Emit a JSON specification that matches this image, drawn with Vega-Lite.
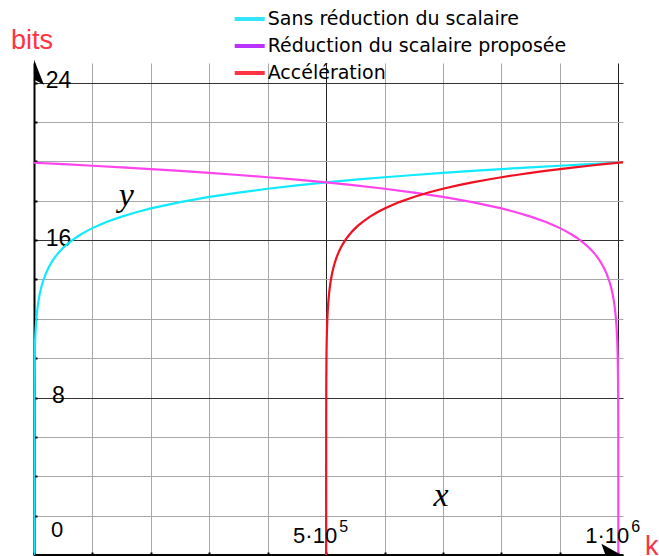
{
  "$schema": "https://vega.github.io/schema/vega-lite/v6.json",
  "width": 589,
  "height": 492,
  "autosize": "none",
  "padding": {"left": 34, "top": 63, "right": 36, "bottom": 1},
  "background": "white",
  "config": {"view": {"stroke": null}},
  "datasets": {
    "curves": [
      {"serie": "Sans réduction du scalaire", "k": 1, "b": 0},
      {"serie": "Sans réduction du scalaire", "k": 10, "b": 3.3219},
      {"serie": "Sans réduction du scalaire", "k": 100, "b": 6.6439},
      {"serie": "Sans réduction du scalaire", "k": 300, "b": 8.2288},
      {"serie": "Sans réduction du scalaire", "k": 500, "b": 8.9658},
      {"serie": "Sans réduction du scalaire", "k": 1000, "b": 9.9658},
      {"serie": "Sans réduction du scalaire", "k": 1500, "b": 10.5508},
      {"serie": "Sans réduction du scalaire", "k": 2000, "b": 10.9658},
      {"serie": "Sans réduction du scalaire", "k": 2500, "b": 11.2877},
      {"serie": "Sans réduction du scalaire", "k": 3000, "b": 11.5507},
      {"serie": "Sans réduction du scalaire", "k": 4000, "b": 11.9658},
      {"serie": "Sans réduction du scalaire", "k": 5000, "b": 12.2877},
      {"serie": "Sans réduction du scalaire", "k": 6000, "b": 12.5508},
      {"serie": "Sans réduction du scalaire", "k": 7000, "b": 12.7731},
      {"serie": "Sans réduction du scalaire", "k": 8000, "b": 12.9658},
      {"serie": "Sans réduction du scalaire", "k": 10000, "b": 13.2877},
      {"serie": "Sans réduction du scalaire", "k": 12000, "b": 13.5508},
      {"serie": "Sans réduction du scalaire", "k": 15000, "b": 13.8727},
      {"serie": "Sans réduction du scalaire", "k": 20000, "b": 14.2877},
      {"serie": "Sans réduction du scalaire", "k": 25000, "b": 14.6097},
      {"serie": "Sans réduction du scalaire", "k": 30000, "b": 14.8727},
      {"serie": "Sans réduction du scalaire", "k": 35000, "b": 15.0951},
      {"serie": "Sans réduction du scalaire", "k": 40000, "b": 15.2877},
      {"serie": "Sans réduction du scalaire", "k": 45000, "b": 15.4577},
      {"serie": "Sans réduction du scalaire", "k": 50000, "b": 15.6096},
      {"serie": "Sans réduction du scalaire", "k": 57000, "b": 15.7987},
      {"serie": "Sans réduction du scalaire", "k": 65000, "b": 15.9881},
      {"serie": "Sans réduction du scalaire", "k": 72000, "b": 16.1357},
      {"serie": "Sans réduction du scalaire", "k": 80000, "b": 16.2877},
      {"serie": "Sans réduction du scalaire", "k": 90000, "b": 16.4577},
      {"serie": "Sans réduction du scalaire", "k": 100000, "b": 16.6096},
      {"serie": "Sans réduction du scalaire", "k": 110000, "b": 16.7472},
      {"serie": "Sans réduction du scalaire", "k": 125000, "b": 16.9316},
      {"serie": "Sans réduction du scalaire", "k": 150000, "b": 17.1946},
      {"serie": "Sans réduction du scalaire", "k": 175000, "b": 17.417},
      {"serie": "Sans réduction du scalaire", "k": 200000, "b": 17.6096},
      {"serie": "Sans réduction du scalaire", "k": 250000, "b": 17.9316},
      {"serie": "Sans réduction du scalaire", "k": 300000, "b": 18.1946},
      {"serie": "Sans réduction du scalaire", "k": 350000, "b": 18.417},
      {"serie": "Sans réduction du scalaire", "k": 400000, "b": 18.6096},
      {"serie": "Sans réduction du scalaire", "k": 450000, "b": 18.7796},
      {"serie": "Sans réduction du scalaire", "k": 500000, "b": 18.9316},
      {"serie": "Sans réduction du scalaire", "k": 550000, "b": 19.0691},
      {"serie": "Sans réduction du scalaire", "k": 600000, "b": 19.1946},
      {"serie": "Sans réduction du scalaire", "k": 650000, "b": 19.3101},
      {"serie": "Sans réduction du scalaire", "k": 700000, "b": 19.417},
      {"serie": "Sans réduction du scalaire", "k": 750000, "b": 19.5165},
      {"serie": "Sans réduction du scalaire", "k": 800000, "b": 19.6096},
      {"serie": "Sans réduction du scalaire", "k": 850000, "b": 19.6971},
      {"serie": "Sans réduction du scalaire", "k": 900000, "b": 19.7795},
      {"serie": "Sans réduction du scalaire", "k": 950000, "b": 19.8576},
      {"serie": "Sans réduction du scalaire", "k": 1000000, "b": 19.9316},
      {"serie": "Réduction du scalaire proposée", "k": 0, "b": 19.9316},
      {"serie": "Réduction du scalaire proposée", "k": 50000, "b": 19.8576},
      {"serie": "Réduction du scalaire proposée", "k": 100000, "b": 19.7795},
      {"serie": "Réduction du scalaire proposée", "k": 150000, "b": 19.6971},
      {"serie": "Réduction du scalaire proposée", "k": 200000, "b": 19.6096},
      {"serie": "Réduction du scalaire proposée", "k": 250000, "b": 19.5165},
      {"serie": "Réduction du scalaire proposée", "k": 300000, "b": 19.417},
      {"serie": "Réduction du scalaire proposée", "k": 350000, "b": 19.3101},
      {"serie": "Réduction du scalaire proposée", "k": 400000, "b": 19.1946},
      {"serie": "Réduction du scalaire proposée", "k": 450000, "b": 19.0691},
      {"serie": "Réduction du scalaire proposée", "k": 500000, "b": 18.9316},
      {"serie": "Réduction du scalaire proposée", "k": 550000, "b": 18.7796},
      {"serie": "Réduction du scalaire proposée", "k": 600000, "b": 18.6096},
      {"serie": "Réduction du scalaire proposée", "k": 650000, "b": 18.417},
      {"serie": "Réduction du scalaire proposée", "k": 700000, "b": 18.1946},
      {"serie": "Réduction du scalaire proposée", "k": 750000, "b": 17.9316},
      {"serie": "Réduction du scalaire proposée", "k": 800000, "b": 17.6096},
      {"serie": "Réduction du scalaire proposée", "k": 825000, "b": 17.417},
      {"serie": "Réduction du scalaire proposée", "k": 850000, "b": 17.1946},
      {"serie": "Réduction du scalaire proposée", "k": 875000, "b": 16.9316},
      {"serie": "Réduction du scalaire proposée", "k": 890000, "b": 16.7472},
      {"serie": "Réduction du scalaire proposée", "k": 900000, "b": 16.6096},
      {"serie": "Réduction du scalaire proposée", "k": 910000, "b": 16.4577},
      {"serie": "Réduction du scalaire proposée", "k": 920000, "b": 16.2877},
      {"serie": "Réduction du scalaire proposée", "k": 928000, "b": 16.1357},
      {"serie": "Réduction du scalaire proposée", "k": 935000, "b": 15.9881},
      {"serie": "Réduction du scalaire proposée", "k": 943000, "b": 15.7987},
      {"serie": "Réduction du scalaire proposée", "k": 950000, "b": 15.6096},
      {"serie": "Réduction du scalaire proposée", "k": 955000, "b": 15.4577},
      {"serie": "Réduction du scalaire proposée", "k": 960000, "b": 15.2877},
      {"serie": "Réduction du scalaire proposée", "k": 965000, "b": 15.0951},
      {"serie": "Réduction du scalaire proposée", "k": 970000, "b": 14.8727},
      {"serie": "Réduction du scalaire proposée", "k": 975000, "b": 14.6097},
      {"serie": "Réduction du scalaire proposée", "k": 980000, "b": 14.2877},
      {"serie": "Réduction du scalaire proposée", "k": 985000, "b": 13.8727},
      {"serie": "Réduction du scalaire proposée", "k": 988000, "b": 13.5508},
      {"serie": "Réduction du scalaire proposée", "k": 990000, "b": 13.2877},
      {"serie": "Réduction du scalaire proposée", "k": 992000, "b": 12.9658},
      {"serie": "Réduction du scalaire proposée", "k": 993000, "b": 12.7731},
      {"serie": "Réduction du scalaire proposée", "k": 994000, "b": 12.5508},
      {"serie": "Réduction du scalaire proposée", "k": 995000, "b": 12.2877},
      {"serie": "Réduction du scalaire proposée", "k": 996000, "b": 11.9658},
      {"serie": "Réduction du scalaire proposée", "k": 997000, "b": 11.5507},
      {"serie": "Réduction du scalaire proposée", "k": 997500, "b": 11.2877},
      {"serie": "Réduction du scalaire proposée", "k": 998000, "b": 10.9658},
      {"serie": "Réduction du scalaire proposée", "k": 998500, "b": 10.5508},
      {"serie": "Réduction du scalaire proposée", "k": 999000, "b": 9.9658},
      {"serie": "Réduction du scalaire proposée", "k": 999500, "b": 8.9658},
      {"serie": "Réduction du scalaire proposée", "k": 999700, "b": 8.2288},
      {"serie": "Réduction du scalaire proposée", "k": 999900, "b": 6.6439},
      {"serie": "Réduction du scalaire proposée", "k": 999990, "b": 3.3219},
      {"serie": "Réduction du scalaire proposée", "k": 999999, "b": 0},
      {"serie": "Accélération", "k": 500000.5, "b": 0},
      {"serie": "Accélération", "k": 500005, "b": 3.3219},
      {"serie": "Accélération", "k": 500050, "b": 6.6439},
      {"serie": "Accélération", "k": 500150, "b": 8.2288},
      {"serie": "Accélération", "k": 500250, "b": 8.9658},
      {"serie": "Accélération", "k": 500500, "b": 9.9658},
      {"serie": "Accélération", "k": 500750, "b": 10.5508},
      {"serie": "Accélération", "k": 501000, "b": 10.9658},
      {"serie": "Accélération", "k": 501250, "b": 11.2877},
      {"serie": "Accélération", "k": 501500, "b": 11.5507},
      {"serie": "Accélération", "k": 502000, "b": 11.9658},
      {"serie": "Accélération", "k": 502500, "b": 12.2877},
      {"serie": "Accélération", "k": 503000, "b": 12.5508},
      {"serie": "Accélération", "k": 503500, "b": 12.7731},
      {"serie": "Accélération", "k": 504000, "b": 12.9658},
      {"serie": "Accélération", "k": 505000, "b": 13.2877},
      {"serie": "Accélération", "k": 506000, "b": 13.5508},
      {"serie": "Accélération", "k": 507500, "b": 13.8727},
      {"serie": "Accélération", "k": 510000, "b": 14.2877},
      {"serie": "Accélération", "k": 512500, "b": 14.6097},
      {"serie": "Accélération", "k": 515000, "b": 14.8727},
      {"serie": "Accélération", "k": 517500, "b": 15.0951},
      {"serie": "Accélération", "k": 520000, "b": 15.2877},
      {"serie": "Accélération", "k": 522500, "b": 15.4577},
      {"serie": "Accélération", "k": 525000, "b": 15.6096},
      {"serie": "Accélération", "k": 528500, "b": 15.7987},
      {"serie": "Accélération", "k": 532500, "b": 15.9881},
      {"serie": "Accélération", "k": 536000, "b": 16.1357},
      {"serie": "Accélération", "k": 540000, "b": 16.2877},
      {"serie": "Accélération", "k": 545000, "b": 16.4577},
      {"serie": "Accélération", "k": 550000, "b": 16.6096},
      {"serie": "Accélération", "k": 555000, "b": 16.7472},
      {"serie": "Accélération", "k": 562500, "b": 16.9316},
      {"serie": "Accélération", "k": 575000, "b": 17.1946},
      {"serie": "Accélération", "k": 587500, "b": 17.417},
      {"serie": "Accélération", "k": 600000, "b": 17.6096},
      {"serie": "Accélération", "k": 625000, "b": 17.9316},
      {"serie": "Accélération", "k": 650000, "b": 18.1946},
      {"serie": "Accélération", "k": 675000, "b": 18.417},
      {"serie": "Accélération", "k": 700000, "b": 18.6096},
      {"serie": "Accélération", "k": 725000, "b": 18.7796},
      {"serie": "Accélération", "k": 750000, "b": 18.9316},
      {"serie": "Accélération", "k": 775000, "b": 19.0691},
      {"serie": "Accélération", "k": 800000, "b": 19.1946},
      {"serie": "Accélération", "k": 825000, "b": 19.3101},
      {"serie": "Accélération", "k": 850000, "b": 19.417},
      {"serie": "Accélération", "k": 875000, "b": 19.5165},
      {"serie": "Accélération", "k": 900000, "b": 19.6096},
      {"serie": "Accélération", "k": 925000, "b": 19.6971},
      {"serie": "Accélération", "k": 950000, "b": 19.7795},
      {"serie": "Accélération", "k": 975000, "b": 19.8576},
      {"serie": "Accélération", "k": 1000000, "b": 19.9316},
      {"serie": "Accélération", "k": 1008000, "b": 19.9544}
    ]
  },
  "layer": [
    {
      "data": {"name": "curves"},
      "mark": {"type": "line", "strokeWidth": 2.2, "clip": true, "interpolate": "linear"},
      "encoding": {
        "x": {
          "field": "k", "type": "quantitative",
          "scale": {"domain": [0, 1008000], "nice": false, "zero": false},
          "axis": {
            "values": [0, 100000, 200000, 300000, 400000, 500000, 600000, 700000, 800000, 900000, 1000000],
            "title": null, "labels": false,
            "grid": true,
            "gridColor": {"condition": {"test": "datum.value % 500000 === 0", "value": "#222222"}, "value": "#a8a8a8"},
            "gridWidth": 1,
            "domainColor": "black", "domainWidth": 3,
            "ticks": true, "tickColor": "black", "tickSize": -3, "tickWidth": 2
          }
        },
        "y": {
          "field": "b", "type": "quantitative",
          "scale": {"domain": [0, 25], "nice": false, "zero": false},
          "axis": {
            "values": [0, 2, 4, 6, 8, 10, 12, 14, 16, 18, 20, 22, 24],
            "title": null,
            "grid": true,
            "gridColor": {"condition": {"test": "datum.value % 8 === 0", "value": "#333333"}, "value": "#a8a8a8"},
            "gridWidth": 1,
            "domainColor": "black", "domainWidth": 2,
            "ticks": true, "tickColor": "black", "tickSize": -3, "tickWidth": 2,
            "labelExpr": "datum.value % 8 === 0 && datum.value > 0 ? datum.label : ''",
            "labelFont": "Liberation Sans", "labelFontSize": 23, "labelColor": "black",
            "labelAlign": "center", "labelBaseline": "middle",
            "labelPadding": -21, "labelOffset": -2,
            "labelFlush": false, "labelOverlap": false, "labelBound": false
          }
        },
        "color": {
          "field": "serie", "type": "nominal",
          "scale": {
            "domain": ["Sans réduction du scalaire", "Réduction du scalaire proposée", "Accélération"],
            "range": ["#10eaff", "#ff44ee", "#f01020"]
          },
          "legend": null
        }
      }
    },
    {
      "data": {"name": "curves"},
      "mark": {"type": "line", "opacity": 0, "strokeWidth": 4},
      "encoding": {
        "x": {"field": "k", "type": "quantitative"},
        "y": {"field": "b", "type": "quantitative"},
        "color": {
          "field": "serie", "type": "nominal",
          "scale": {
            "domain": ["Sans réduction du scalaire", "Réduction du scalaire proposée", "Accélération"],
            "range": ["#33e5ff", "#bb33ff", "#ff3344"]
          },
          "legend": {
            "orient": "none", "legendX": 198.7, "legendY": -61,
            "title": null, "padding": 0,
            "symbolType": "stroke", "symbolSize": 900, "symbolStrokeWidth": 4, "symbolOpacity": 1,
            "labelFont": "DejaVu Sans", "labelFontSize": 19, "labelColor": "black",
            "labelOffset": 1, "rowPadding": 0, "labelLimit": 0
          }
        }
      }
    },
    {
      "data": {"values": [{"k": 500000, "b": 0, "m": "5·10", "s": "5"}, {"k": 1000000, "b": 0, "m": "1·10", "s": "6"}]},
      "layer": [
        {
          "mark": {"type": "text", "align": "right", "baseline": "alphabetic", "dx": 11, "dy": -12, "font": "Liberation Sans", "fontSize": 22, "color": "black"},
          "encoding": {
            "x": {"field": "k", "type": "quantitative"},
            "y": {"field": "b", "type": "quantitative"},
            "text": {"field": "m"}
          }
        },
        {
          "mark": {"type": "text", "align": "left", "baseline": "alphabetic", "dx": 13, "dy": -23, "font": "Liberation Sans", "fontSize": 16, "color": "black"},
          "encoding": {
            "x": {"field": "k", "type": "quantitative"},
            "y": {"field": "b", "type": "quantitative"},
            "text": {"field": "s"}
          }
        }
      ]
    },
    {
      "data": {"values": [{"k": 0, "b": 0, "t": "0"}]},
      "mark": {"type": "text", "align": "center", "baseline": "middle", "dx": 23, "dy": -25, "font": "Liberation Sans", "fontSize": 22, "color": "black"},
      "encoding": {
        "x": {"field": "k", "type": "quantitative"},
        "y": {"field": "b", "type": "quantitative"},
        "text": {"field": "t"}
      }
    },
    {
      "data": {"values": [{"k": 0, "b": 25, "t": "bits"}]},
      "mark": {"type": "text", "align": "left", "baseline": "alphabetic", "dx": -23, "dy": -14, "font": "Liberation Sans", "fontSize": 27, "color": "#ff3344"},
      "encoding": {
        "x": {"field": "k", "type": "quantitative"},
        "y": {"field": "b", "type": "quantitative"},
        "text": {"field": "t"}
      }
    },
    {
      "data": {"values": [{"k": 1008000, "b": 0, "t": "k"}]},
      "mark": {"type": "text", "align": "left", "baseline": "alphabetic", "dx": 22, "dy": 0, "font": "Liberation Sans", "fontSize": 27, "color": "#ff3344"},
      "encoding": {
        "x": {"field": "k", "type": "quantitative"},
        "y": {"field": "b", "type": "quantitative"},
        "text": {"field": "t"}
      }
    },
    {
      "data": {"values": [{"k": 157900, "b": 17.75, "t": "y"}, {"k": 696400, "b": 2.51, "t": "x"}]},
      "mark": {"type": "text", "align": "center", "baseline": "alphabetic", "font": "Liberation Serif", "fontStyle": "italic", "fontSize": 34, "color": "black"},
      "encoding": {
        "x": {"field": "k", "type": "quantitative"},
        "y": {"field": "b", "type": "quantitative"},
        "text": {"field": "t"}
      }
    },
    {
      "data": {"values": [{"k": 0, "b": 24.5}]},
      "mark": {"type": "point", "shape": "M0,-1L0.75,0.9L0,0.5Z", "size": 700, "filled": true, "color": "black", "opacity": 1, "strokeWidth": 0},
      "encoding": {
        "x": {"field": "k", "type": "quantitative"},
        "y": {"field": "b", "type": "quantitative"}
      }
    },
    {
      "data": {"values": [{"k": 982400, "b": 0}]},
      "mark": {"type": "point", "shape": "M1,0L-0.5,-0.85L-0.2,0L-0.5,0.85Z", "size": 700, "filled": true, "color": "black", "opacity": 1, "strokeWidth": 0},
      "encoding": {
        "x": {"field": "k", "type": "quantitative"},
        "y": {"field": "b", "type": "quantitative"}
      }
    }
  ],
  "resolve": {"scale": {"color": "independent"}}
}
